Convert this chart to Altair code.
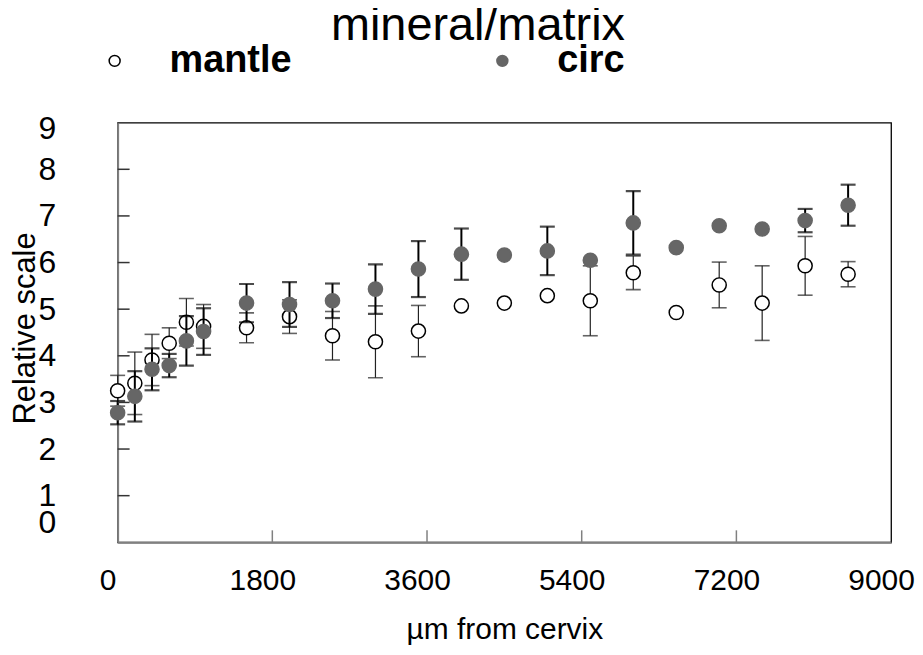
import altair as alt
import pandas as pd

# ---- data ----
x_um = [0, 200, 400, 600, 800, 1000, 1500, 2000, 2500, 3000, 3500,
        4000, 4500, 5000, 5500, 6000, 6500, 7000, 7500, 8000, 8500]
mantle_mean = [3.25, 3.41, 3.91, 4.27, 4.72, 4.63, 4.60, 4.84, 4.43, 4.30, 4.53,
               5.07, 5.13, 5.29, 5.18, 5.78, 4.93, 5.52, 5.13, 5.93, 5.75]
mantle_err = [0.33, 0.67, 0.55, 0.33, 0.51, 0.47, 0.32, 0.36, 0.52, 0.77, 0.55,
              0.0, 0.0, 0.0, 0.75, 0.36, 0.0, 0.49, 0.80, 0.63, 0.27]
circ_mean = [2.78, 3.13, 3.71, 3.79, 4.32, 4.52, 5.13, 5.10, 5.18, 5.43, 5.86,
             6.18, 6.16, 6.25, 6.05, 6.85, 6.32, 6.79, 6.72, 6.90, 7.23]
circ_err = [0.25, 0.54, 0.45, 0.25, 0.53, 0.50, 0.41, 0.48, 0.37, 0.53, 0.60,
            0.55, 0.0, 0.52, 0.0, 0.68, 0.0, 0.0, 0.0, 0.25, 0.44]
series_names = ["mantle", "circ"]
x_tick_values = [0, 1800, 3600, 5400, 7200, 9000]
y_tick_values = [0, 1, 2, 3, 4, 5, 6, 7, 8, 9]
x_inner_ticks = [1800, 3600, 5400, 7200]
y_inner_ticks = [1, 2, 3, 4, 5, 6, 7, 8]

rows = []
for name, means, errs in [("mantle", mantle_mean, mantle_err), ("circ", circ_mean, circ_err)]:
    for xv, m, e in zip(x_um, means, errs):
        rows.append({"series": name, "x": xv, "mean": m, "err": e,
                     "lo": m - e, "hi": m + e})
df = pd.DataFrame(rows)

W, H = 776, 421
FONT = "Liberation Sans"

xs = alt.Scale(domain=[0, 9000], nice=False, zero=False)
ys = alt.Scale(domain=[0, 9], nice=False, zero=False)

x_axis = alt.Axis(values=x_tick_values, ticks=False, grid=False, format="d",
                  labelFontSize=30, labelPadding=23, labelOffset=-10,
                  labelFlush=False, labelOverlap=False, labelColor="black",
                  title="µm from cervix", titleFontSize=30, titleFontWeight="normal",
                  titleColor="black", titleY=97, titleBaseline="alphabetic",
                  domainColor="#808080", domainWidth=2)

y_label_offset = {
    "condition": [
        {"test": "datum.value == 0", "value": -20},
        {"test": "datum.value == 9", "value": 6},
    ],
    "value": 0,
}
y_axis = alt.Axis(values=y_tick_values, ticks=False, grid=False, format="d",
                  labelFontSize=32, labelPadding=62, labelFlush=False,
                  labelOffset=y_label_offset, labelOverlap=False, labelColor="black",
                  title="Relative scale", titleFontSize=31, titleFontWeight="normal",
                  titleColor="black", titleX=-83, titleY=206, titleBaseline="alphabetic",
                  domainColor="#808080", domainWidth=2)

legend = alt.Legend(title="mineral/matrix", orient="none", legendX=-22, legendY=-120,
                    direction="horizontal", columns=2, padding=0,
                    titleFontSize=47, titleFontWeight="normal", titleColor="black",
                    titleAnchor="end", titleAlign="right", titleLimit=1000, titlePadding=-8,
                    labelFontSize=38, labelFontWeight="bold", labelColor="black",
                    labelOffset=36, labelLimit=1000, columnPadding=192,
                    symbolSize=120, symbolStrokeWidth=1.5, symbolType="circle")

fill_scale = alt.Scale(domain=series_names, range=["white", "#666666"])
stroke_scale = alt.Scale(domain=series_names, range=["black", "#666666"])

base = alt.Chart(df)


def bars(name, color, width, cap_thick):
    sel = base.transform_filter((alt.datum.series == name) & (alt.datum.err > 0))
    line = sel.mark_rule(color=color, strokeWidth=width).encode(
        x=alt.X("x:Q", scale=xs, axis=x_axis),
        y=alt.Y("lo:Q", scale=ys, axis=y_axis),
        y2="hi:Q",
    )
    caps = sel.transform_fold(["lo", "hi"], as_=["end", "yv"]).mark_tick(
        color=color, orient="horizontal", size=15, thickness=cap_thick
    ).encode(
        x=alt.X("x:Q", scale=xs),
        y=alt.Y("yv:Q", scale=ys),
    )
    return line + caps


def points(name):
    return base.transform_filter(alt.datum.series == name).mark_circle(
        size=200, strokeWidth=1.5, opacity=1
    ).encode(
        x=alt.X("x:Q", scale=xs),
        y=alt.Y("mean:Q", scale=ys),
        fill=alt.Fill("series:N", scale=fill_scale, legend=legend),
        stroke=alt.Stroke("series:N", scale=stroke_scale, legend=legend),
    )


xt = alt.Chart(pd.DataFrame({"v": x_inner_ticks})).mark_rule(
    color="#808080", strokeWidth=1.5
).encode(x=alt.X("v:Q", scale=xs), y=alt.value(H), y2=alt.value(H - 12))
yt = alt.Chart(pd.DataFrame({"v": y_inner_ticks})).mark_rule(
    color="#333333", strokeWidth=1.5
).encode(y=alt.Y("v:Q", scale=ys), x=alt.value(0), x2=alt.value(12))

chart = alt.layer(
    bars("mantle", "#222222", 1.2, 1.6),
    points("mantle"),
    bars("circ", "black", 2, 2.2),
    points("circ"),
    xt, yt,
).properties(
    width=W, height=H,
    autosize=alt.AutoSizeParams(type="none"),
    padding={"left": 110, "top": 114, "right": 24, "bottom": 104},
).configure(font=FONT).configure_view(stroke="black", strokeWidth=1.3)

chart.save("out.html", embed_options={"renderer": "svg", "actions": False})
